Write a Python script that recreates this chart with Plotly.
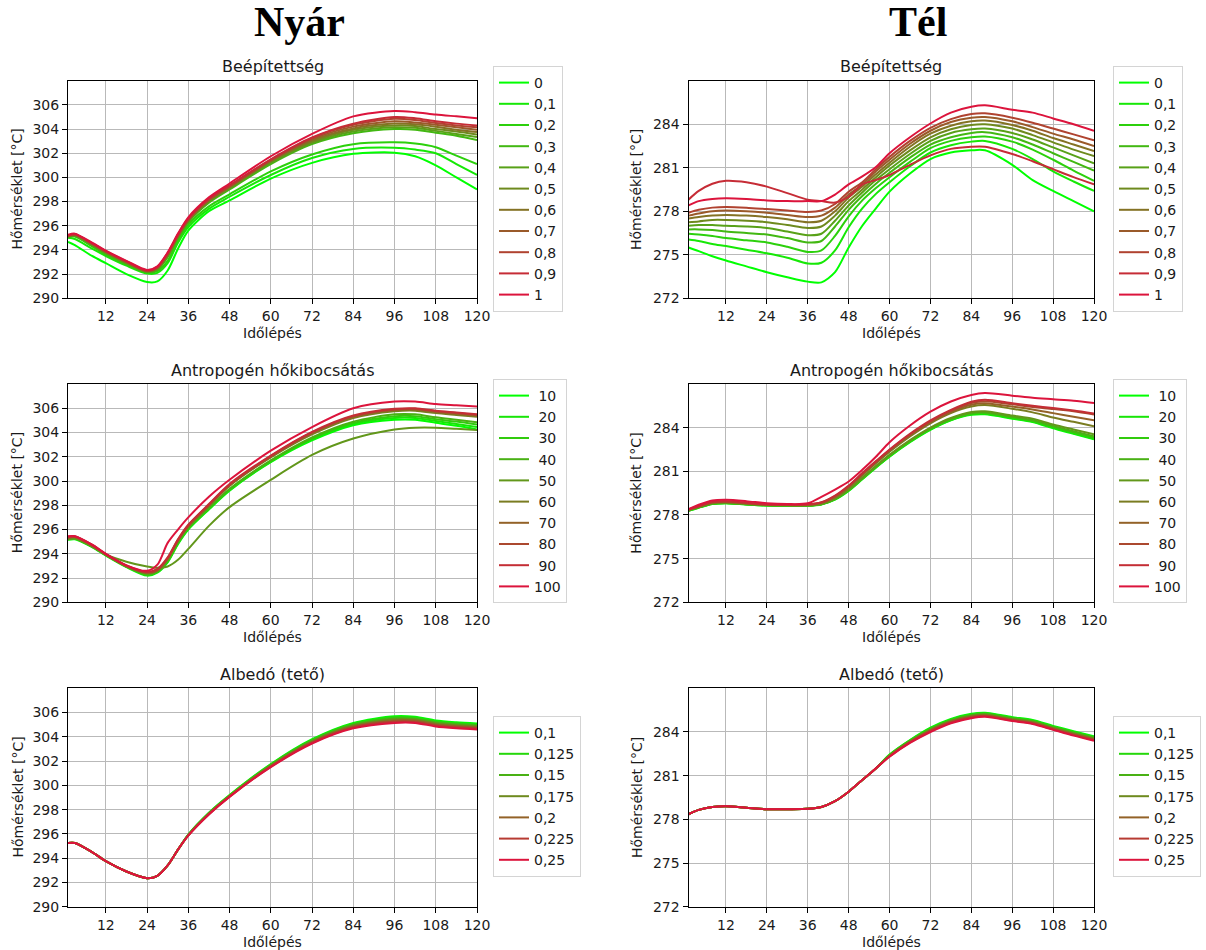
import plotly.graph_objects as go

W, H = 1206, 950

# ---------------- data ----------------
X_NYAR = [1, 3, 8, 12, 18, 24, 27, 30, 33, 36, 42, 48, 60, 72, 84, 96, 102, 108, 114, 120]
X_TEL = [1, 4, 8, 12, 18, 24, 30, 36, 40, 44, 48, 52, 56, 60, 66, 72, 78, 84, 88, 96, 102, 108, 114, 120]
X_TICKS = [12, 24, 36, 48, 60, 72, 84, 96, 108, 120]
Y_TICKS_NYAR = [290, 292, 294, 296, 298, 300, 302, 304, 306]
Y_TICKS_TEL = [272, 275, 278, 281, 284]

BEEP_LABELS = ["0", "0,1", "0,2", "0,3", "0,4", "0,5", "0,6", "0,7", "0,8", "0,9", "1"]
ANTRO_LABELS = ["\u00a010", "\u00a020", "\u00a030", "\u00a040", "\u00a050",
                "\u00a060", "\u00a070", "\u00a080", "\u00a090", "100"]
ALB_LABELS = ["0,1", "0,125", "0,15", "0,175", "0,2", "0,225", "0,25"]

NYAR_BEEP = [
    [294.67, 294.4, 293.5, 292.9, 292.0, 291.35, 291.4, 292.3, 294.1, 295.6, 297.2, 298.1, 299.9, 301.2, 301.95, 302.05, 301.75, 301.0, 300.0, 299.0],
    [295.0, 294.9, 294.1, 293.5, 292.7, 292.05, 292.1, 292.9, 294.6, 295.9, 297.4, 298.4, 300.2, 301.6, 302.35, 302.45, 302.3, 302.0, 301.1, 300.2],
    [295.1, 295.1, 294.3, 293.6, 292.8, 292.15, 292.25, 293.1, 294.8, 296.1, 297.6, 298.6, 300.5, 301.9, 302.75, 302.9, 302.8, 302.5, 301.8, 301.1],
    [295.05, 295.15, 294.35, 293.7, 292.85, 292.15, 292.35, 293.4, 295.0, 296.3, 297.9, 299.0, 301.1, 302.75, 303.65, 304.0, 303.95, 303.7, 303.45, 303.1],
    [295.1, 295.2, 294.4, 293.75, 292.9, 292.2, 292.4, 293.5, 295.05, 296.35, 298.0, 299.1, 301.2, 302.85, 303.8, 304.15, 304.1, 303.85, 303.6, 303.35],
    [295.1, 295.2, 294.45, 293.8, 292.95, 292.2, 292.45, 293.55, 295.1, 296.4, 298.05, 299.15, 301.3, 302.95, 303.95, 304.3, 304.25, 304.0, 303.8, 303.55],
    [295.15, 295.25, 294.5, 293.85, 293.0, 292.25, 292.5, 293.6, 295.15, 296.45, 298.1, 299.2, 301.35, 303.05, 304.05, 304.45, 304.4, 304.2, 303.95, 303.75],
    [295.15, 295.25, 294.5, 293.85, 293.0, 292.25, 292.55, 293.65, 295.2, 296.5, 298.15, 299.25, 301.4, 303.15, 304.2, 304.65, 304.55, 304.35, 304.15, 303.95],
    [295.2, 295.3, 294.55, 293.9, 293.05, 292.3, 292.55, 293.7, 295.25, 296.55, 298.2, 299.3, 301.45, 303.25, 304.35, 304.85, 304.75, 304.5, 304.3, 304.15],
    [295.2, 295.3, 294.55, 293.9, 293.05, 292.3, 292.6, 293.75, 295.3, 296.6, 298.25, 299.35, 301.5, 303.3, 304.45, 305.0, 304.9, 304.65, 304.45, 304.3],
    [295.25, 295.35, 294.6, 293.95, 293.1, 292.35, 292.65, 293.8, 295.35, 296.7, 298.35, 299.5, 301.75, 303.6, 305.05, 305.5, 305.4, 305.2, 305.05, 304.9],
]

TEL_BEEP = [
    [275.5, 275.25, 274.9, 274.6, 274.2, 273.8, 273.45, 273.15, 273.1, 273.8, 275.5, 277.0, 278.2, 279.35, 280.6, 281.6, 282.05, 282.2, 282.2, 281.2, 280.15, 279.4, 278.7, 278.0],
    [276.05, 275.95, 275.75, 275.6, 275.35, 275.1, 274.8, 274.4, 274.45, 275.3, 276.9, 278.2, 279.2, 280.0, 281.1, 282.05, 282.55, 282.8, 282.85, 282.3, 281.6, 280.75, 280.05, 279.4],
    [276.45, 276.4, 276.3, 276.15, 276.0, 275.85, 275.55, 275.2, 275.3, 276.3, 277.65, 278.75, 279.6, 280.35, 281.4, 282.35, 282.85, 283.1, 283.15, 282.8, 282.25, 281.55, 280.8, 280.1],
    [276.75, 276.75, 276.7, 276.6, 276.5, 276.4, 276.15, 275.85, 275.95, 276.95, 278.1, 279.05, 279.9, 280.65, 281.7, 282.6, 283.1, 283.4, 283.45, 283.1, 282.6, 282.0, 281.4, 280.8],
    [277.0, 277.05, 277.05, 277.0, 276.95, 276.85, 276.6, 276.35, 276.45, 277.35, 278.4, 279.3, 280.15, 280.9, 281.95, 282.85, 283.4, 283.65, 283.7, 283.4, 282.95, 282.4, 281.85, 281.3],
    [277.25, 277.3, 277.4, 277.4, 277.35, 277.25, 277.05, 276.85, 276.95, 277.7, 278.7, 279.5, 280.35, 281.15, 282.2, 283.1, 283.65, 283.95, 284.0, 283.7, 283.25, 282.75, 282.25, 281.8],
    [277.5, 277.6, 277.7, 277.75, 277.7, 277.6, 277.45, 277.25, 277.35, 278.0, 278.95, 279.7, 280.55, 281.35, 282.45, 283.35, 283.9, 284.2, 284.25, 283.95, 283.55, 283.05, 282.6, 282.15],
    [277.7, 277.85, 278.0, 278.05, 278.0, 277.9, 277.75, 277.6, 277.7, 278.25, 279.15, 279.85, 280.75, 281.55, 282.65, 283.55, 284.15, 284.45, 284.5, 284.2, 283.8, 283.35, 282.95, 282.5],
    [277.9, 278.1, 278.25, 278.3, 278.25, 278.15, 278.05, 277.95, 278.05, 278.5, 279.35, 280.0, 280.9, 281.75, 282.85, 283.75, 284.35, 284.7, 284.75, 284.45, 284.1, 283.7, 283.3, 282.9],
    [278.8, 279.4, 279.9, 280.1, 280.0, 279.7, 279.25, 278.8, 278.7, 278.6, 279.0, 279.85, 280.15, 280.5, 281.2, 281.85, 282.3, 282.45, 282.45, 281.95, 281.45, 280.9, 280.35, 279.85],
    [278.4, 278.7, 278.85, 278.9, 278.85, 278.75, 278.7, 278.7, 278.7, 279.15, 279.85, 280.4, 281.05, 282.0, 283.1, 284.05, 284.8, 285.2, 285.3, 285.0, 284.8, 284.4, 284.0, 283.55],
]

NYAR_ANTRO = [
    [295.15, 295.2, 294.55, 293.85, 292.9, 292.2, 292.45, 293.3, 294.8, 296.0, 297.65, 299.2, 301.55, 303.35, 304.6, 305.05, 305.05, 304.8, 304.55, 304.25],
    [295.2, 295.25, 294.6, 293.9, 292.95, 292.25, 292.5, 293.35, 294.85, 296.05, 297.7, 299.25, 301.6, 303.45, 304.7, 305.2, 305.2, 304.95, 304.7, 304.45],
    [295.2, 295.25, 294.6, 293.9, 292.95, 292.25, 292.5, 293.4, 294.9, 296.1, 297.75, 299.3, 301.65, 303.5, 304.8, 305.35, 305.35, 305.1, 304.9, 304.65],
    [295.25, 295.3, 294.65, 293.9, 292.95, 292.3, 292.55, 293.45, 294.95, 296.15, 297.8, 299.35, 301.7, 303.6, 304.9, 305.5, 305.5, 305.25, 305.05, 304.85],
    [295.2, 295.25, 294.6, 293.95, 293.35, 292.95, 292.85, 292.95, 293.5, 294.4, 296.3, 297.85, 300.1, 302.15, 303.5, 304.25, 304.4, 304.4, 304.3, 304.2],
    [295.3, 295.35, 294.65, 293.9, 292.95, 292.4, 292.6, 293.55, 295.05, 296.25, 297.95, 299.6, 301.95, 303.85, 305.2, 305.75, 305.8, 305.6, 305.45, 305.3],
    [295.35, 295.4, 294.7, 293.95, 293.0, 292.45, 292.65, 293.6, 295.1, 296.3, 298.0, 299.65, 302.0, 303.95, 305.3, 305.85, 305.9, 305.7, 305.55, 305.4],
    [295.35, 295.4, 294.7, 293.95, 293.0, 292.45, 292.7, 293.65, 295.15, 296.35, 298.05, 299.7, 302.05, 304.0, 305.35, 305.9, 305.95, 305.75, 305.6, 305.45],
    [295.4, 295.45, 294.75, 294.0, 293.05, 292.5, 292.75, 293.7, 295.2, 296.4, 298.1, 299.75, 302.1, 304.05, 305.4, 305.95, 306.0, 305.8, 305.65, 305.5],
    [295.45, 295.45, 294.75, 294.0, 293.05, 292.6, 293.1, 294.9, 296.0, 297.0, 298.7, 300.1, 302.5, 304.45, 306.0, 306.55, 306.55, 306.35, 306.25, 306.15],
]

TEL_ANTRO = [
    [278.28, 278.5, 278.75, 278.8, 278.72, 278.65, 278.63, 278.63, 278.72, 279.05, 279.65, 280.45, 281.25, 282.0, 283.0, 283.85, 284.5, 284.88, 284.92, 284.62, 284.38, 283.95, 283.58, 283.2],
    [278.28, 278.5, 278.75, 278.8, 278.72, 278.65, 278.63, 278.63, 278.73, 279.07, 279.68, 280.48, 281.28, 282.03, 283.03, 283.88, 284.53, 284.92, 284.96, 284.66, 284.42, 284.0, 283.62, 283.25],
    [278.3, 278.52, 278.77, 278.82, 278.73, 278.66, 278.64, 278.64, 278.74, 279.09, 279.7, 280.5, 281.3, 282.06, 283.06, 283.91, 284.56, 284.95, 285.0, 284.7, 284.46, 284.05, 283.67, 283.3],
    [278.3, 278.52, 278.77, 278.82, 278.74, 278.67, 278.65, 278.65, 278.75, 279.1, 279.72, 280.53, 281.33, 282.1, 283.1, 283.95, 284.6, 285.0, 285.05, 284.75, 284.52, 284.12, 283.75, 283.4],
    [278.32, 278.54, 278.8, 278.85, 278.75, 278.68, 278.66, 278.66, 278.76, 279.12, 279.75, 280.56, 281.36, 282.13, 283.14, 284.0, 284.66, 285.07, 285.12, 284.83, 284.62, 284.22, 283.88, 283.55],
    [278.35, 278.56, 278.83, 278.88, 278.78, 278.69, 278.68, 278.68, 278.8, 279.2, 279.88, 280.72, 281.55, 282.35, 283.4, 284.3, 285.0, 285.45, 285.55, 285.3, 285.05, 284.7, 284.4, 284.1],
    [278.35, 278.57, 278.85, 278.9, 278.8, 278.7, 278.69, 278.7, 278.83, 279.25, 279.93, 280.78, 281.6, 282.4, 283.47, 284.37, 285.07, 285.58, 285.68, 285.45, 285.25, 285.0, 284.75, 284.5],
    [278.37, 278.6, 278.87, 278.92, 278.82, 278.72, 278.7, 278.72, 278.86, 279.3, 279.98, 280.83, 281.66, 282.46, 283.53, 284.44, 285.15, 285.7, 285.82, 285.6, 285.42, 285.28, 285.12, 284.9],
    [278.38, 278.62, 278.9, 278.95, 278.84, 278.73, 278.71, 278.73, 278.88, 279.33, 280.02, 280.88, 281.7, 282.5, 283.58, 284.5, 285.22, 285.78, 285.92, 285.68, 285.5, 285.35, 285.18, 284.98],
    [278.4, 278.7, 279.0, 279.05, 278.95, 278.8, 278.75, 278.8, 279.25, 279.75, 280.3, 281.1, 282.0, 283.0, 284.15, 285.1, 285.8, 286.25, 286.38, 286.2, 286.05, 285.95, 285.85, 285.7],
]

NYAR_ALB = [
    [295.25, 295.25, 294.5, 293.75, 292.9, 292.35, 292.55, 293.4, 294.7, 295.95, 297.75, 299.2, 301.75, 303.8, 305.15, 305.7, 305.65, 305.35, 305.2, 305.1],
    [295.25, 295.25, 294.5, 293.75, 292.9, 292.35, 292.55, 293.4, 294.7, 295.93, 297.72, 299.17, 301.71, 303.74, 305.08, 305.61, 305.57, 305.27, 305.12, 305.02],
    [295.25, 295.25, 294.5, 293.75, 292.9, 292.35, 292.55, 293.4, 294.7, 295.92, 297.7, 299.15, 301.67, 303.68, 305.0, 305.52, 305.48, 305.18, 305.03, 304.93],
    [295.25, 295.25, 294.5, 293.75, 292.9, 292.35, 292.55, 293.4, 294.7, 295.9, 297.68, 299.12, 301.63, 303.62, 304.92, 305.43, 305.4, 305.1, 304.95, 304.85],
    [295.25, 295.25, 294.5, 293.75, 292.9, 292.35, 292.55, 293.4, 294.7, 295.88, 297.65, 299.1, 301.58, 303.56, 304.85, 305.33, 305.32, 305.02, 304.87, 304.77],
    [295.25, 295.25, 294.5, 293.75, 292.9, 292.35, 292.55, 293.4, 294.7, 295.87, 297.62, 299.07, 301.54, 303.5, 304.77, 305.24, 305.23, 304.94, 304.78, 304.68],
    [295.25, 295.25, 294.5, 293.75, 292.9, 292.35, 292.55, 293.4, 294.7, 295.85, 297.6, 299.05, 301.5, 303.45, 304.7, 305.15, 305.15, 304.85, 304.7, 304.6],
]

TEL_ALB = [
    [278.35, 278.65, 278.85, 278.9, 278.8, 278.7, 278.7, 278.72, 278.85, 279.25, 279.9, 280.7, 281.5, 282.45, 283.45, 284.3, 284.9, 285.25, 285.32, 285.02, 284.82, 284.42, 284.05, 283.7],
    [278.35, 278.65, 278.85, 278.9, 278.8, 278.7, 278.7, 278.72, 278.85, 279.25, 279.9, 280.7, 281.5, 282.42, 283.42, 284.25, 284.85, 285.2, 285.28, 284.98, 284.78, 284.37, 284.0, 283.65],
    [278.35, 278.65, 278.85, 278.9, 278.8, 278.7, 278.7, 278.72, 278.85, 279.25, 279.9, 280.7, 281.5, 282.4, 283.38, 284.2, 284.8, 285.15, 285.23, 284.93, 284.73, 284.32, 283.95, 283.6],
    [278.35, 278.65, 278.85, 278.9, 278.8, 278.7, 278.7, 278.72, 278.85, 279.25, 279.9, 280.7, 281.5, 282.37, 283.35, 284.15, 284.75, 285.1, 285.18, 284.88, 284.68, 284.27, 283.9, 283.55],
    [278.35, 278.65, 278.85, 278.9, 278.8, 278.7, 278.7, 278.72, 278.85, 279.25, 279.9, 280.7, 281.5, 282.35, 283.32, 284.1, 284.7, 285.05, 285.13, 284.83, 284.63, 284.22, 283.85, 283.5],
    [278.35, 278.65, 278.85, 278.9, 278.8, 278.7, 278.7, 278.72, 278.85, 279.25, 279.9, 280.7, 281.5, 282.32, 283.28, 284.05, 284.65, 285.0, 285.09, 284.79, 284.59, 284.18, 283.8, 283.45],
    [278.35, 278.65, 278.85, 278.9, 278.8, 278.7, 278.7, 278.72, 278.85, 279.25, 279.9, 280.7, 281.5, 282.3, 283.25, 284.0, 284.6, 284.95, 285.05, 284.75, 284.55, 284.15, 283.75, 283.4],
]

# ---------------- styling helpers ----------------
GREEN = (0, 255, 0)
RED = (220, 20, 60)


def blend(i, n):
    t = i / (n - 1)
    c = [round(GREEN[k] + (RED[k] - GREEN[k]) * t) for k in range(3)]
    return f"rgb({c[0]},{c[1]},{c[2]})"


def fx(p):
    return p / W


def fy(p):
    return 1 - p / H


COLS = {"nyar": (68, 477), "tel": (688.5, 1094)}
ROWS = [(80.7, 298.3), (384.0, 602.3), (688.3, 906.7)]
LEG_LEFT = {"nyar": 493, "tel": 1113}
LEG_TOP = [66.0, 379.0, 716.0]
TITLES = ["Beépítettség", "Antropogén hőkibocsátás", "Albedó (tető)"]
FONT = "DejaVu Sans, Verdana, sans-serif"
TXT = "#1a1a1a"

panels = [
    ("nyar", 0, X_NYAR, NYAR_BEEP, BEEP_LABELS, [290, 308], Y_TICKS_NYAR),
    ("tel", 0, X_TEL, TEL_BEEP, BEEP_LABELS, [272, 287], Y_TICKS_TEL),
    ("nyar", 1, X_NYAR, NYAR_ANTRO, ANTRO_LABELS, [290, 308], Y_TICKS_NYAR),
    ("tel", 1, X_TEL, TEL_ANTRO, ANTRO_LABELS, [272, 287], Y_TICKS_TEL),
    ("nyar", 2, X_NYAR, NYAR_ALB, ALB_LABELS, [290, 308], Y_TICKS_NYAR),
    ("tel", 2, X_TEL, TEL_ALB, ALB_LABELS, [272, 287], Y_TICKS_TEL),
]

fig = go.Figure()
layout = dict(
    width=W, height=H,
    margin=dict(l=0, r=0, t=0, b=0),
    paper_bgcolor="white", plot_bgcolor="white",
    showlegend=True,
    font=dict(family=FONT, size=14, color=TXT),
)
annotations = []

for k, (col, row, xs, series, labels, yr, yt) in enumerate(panels):
    idx = k + 1
    sfx = "" if idx == 1 else str(idx)
    leg = "legend" if idx == 1 else f"legend{idx}"
    n = len(series)
    for i, (ys, lab) in enumerate(zip(series, labels)):
        fig.add_trace(go.Scatter(
            x=xs, y=ys, mode="lines", name=lab,
            line=dict(color=blend(i, n), width=2, shape="spline", smoothing=0.8),
            xaxis="x" + sfx, yaxis="y" + sfx, legend=leg,
        ))
    x0, x1 = COLS[col]
    y0, y1 = ROWS[row]
    common = dict(
        showline=True, linecolor="black", linewidth=1, mirror=True,
        ticks="outside", ticklen=5, tickwidth=1, tickcolor="black",
        showgrid=True, gridcolor="#b9b9b9", gridwidth=1, zeroline=False,
        tickfont=dict(family=FONT, size=14, color=TXT), automargin=False,
    )
    layout["xaxis" + sfx] = dict(
        common, domain=[fx(x0), fx(x1)], range=[1, 120], tickvals=X_TICKS,
        anchor="y" + sfx,
    )
    layout["yaxis" + sfx] = dict(
        common, domain=[fy(y1), fy(y0)], range=yr, tickvals=yt,
        anchor="x" + sfx,
    )
    layout[leg] = dict(
        x=fx(LEG_LEFT[col]), xanchor="left", y=fy(LEG_TOP[row]), yanchor="top",
        bgcolor="white", bordercolor="#d4d4d4", borderwidth=1,
        font=dict(family=FONT, size=14, color=TXT), itemwidth=30,
        tracegroupgap=0,
    )
    cx = (x0 + x1) / 2
    annotations.append(dict(text=TITLES[row], x=fx(cx), y=fy(y0 - 14), xref="paper", yref="paper",
                            showarrow=False, xanchor="center", yanchor="middle",
                            font=dict(family=FONT, size=16, color=TXT)))
    annotations.append(dict(text="Időlépés", x=fx(cx), y=fy(y1 + 35), xref="paper", yref="paper",
                            showarrow=False, xanchor="center", yanchor="middle",
                            font=dict(family=FONT, size=14, color=TXT)))
    annotations.append(dict(text="Hőmérséklet [°C]", x=fx(x0 - 51 if col == "nyar" else x0 - 52),
                            y=fy((y0 + y1) / 2), xref="paper", yref="paper", textangle=-90,
                            showarrow=False, xanchor="center", yanchor="middle",
                            font=dict(family=FONT, size=14, color=TXT)))

annotations.append(dict(text="<b>Nyár</b>", x=fx(299), y=fy(22), xref="paper", yref="paper",
                        showarrow=False, xanchor="center", yanchor="middle",
                        font=dict(family="Liberation Serif, Times New Roman, serif", size=42, color="black")))
annotations.append(dict(text="<b>Tél</b>", x=fx(918), y=fy(22), xref="paper", yref="paper",
                        showarrow=False, xanchor="center", yanchor="middle",
                        font=dict(family="Liberation Serif, Times New Roman, serif", size=42, color="black")))

layout["annotations"] = annotations
fig.update_layout(**layout)
fig.write_html("out.html")
